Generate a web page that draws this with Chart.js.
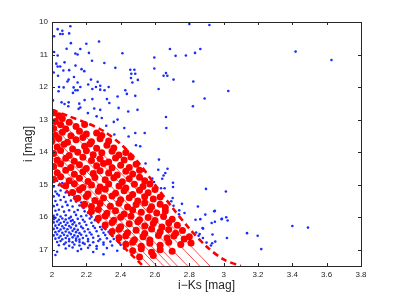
<!DOCTYPE html>
<html>
<head>
<meta charset="utf-8">
<script src="https://cdn.jsdelivr.net/npm/chart.js@4/dist/chart.umd.min.js"></script>
<style>
  html, body { margin: 0; padding: 0; background: #fff; }
  canvas { display: block; }
</style>
</head>
<body>
<canvas id="cmd" width="399" height="300"></canvas>
<script>
// axis ticks
const xTicks = [2, 2.2, 2.4, 2.6, 2.8, 3, 3.2, 3.4, 3.6, 3.8];
const yTicks = [10, 11, 12, 13, 14, 15, 16, 17];

// field stars (blue)
const fieldStars = [
  [2.033,10.22],[2.06,10.27],[2.107,10.13],[2.048,10.37],[2.062,10.37],[2.10,10.35],[2.012,10.44],[2.085,10.82],
  [2.11,10.65],[2.165,10.83],[2.20,10.67],[2.274,10.60],[2.012,10.92],[2.033,11.03],[2.136,10.97],[2.149,11.0],
  [2.215,10.95],[2.41,10.96],[2.596,11.09],[2.687,10.83],[2.72,11.04],[2.78,11.03],[2.833,10.95],[2.80,10.06],
  [2.864,10.83],[2.073,11.24],[2.025,11.28],[2.033,11.37],[2.048,11.37],[2.066,11.49],[2.01,11.55],[2.10,11.48],
  [2.137,11.34],[2.172,11.45],[2.188,11.51],[2.233,11.19],[2.305,11.26],[2.369,11.41],[2.456,11.47],[2.48,11.47],
  [2.462,11.59],[2.485,11.59],[2.596,11.43],[2.664,11.57],[2.672,11.65],[2.65,11.65],[2.035,11.65],[2.097,11.77],
  [2.09,11.83],[2.128,11.69],[2.149,11.86],[2.227,11.77],[2.266,11.84],[2.46,11.72],[2.468,11.86],[2.50,11.78],
  [2.708,11.77],[2.823,11.83],[2.041,12.0],[2.068,12.01],[2.038,12.13],[2.126,12.01],[2.122,12.18],[2.136,12.10],
  [2.149,12.10],[2.165,12.0],[2.211,11.92],[2.235,12.06],[2.256,12.0],[2.281,12.08],[2.281,11.96],[2.306,12.10],
  [2.33,12.0],[2.235,12.37],[2.19,12.40],[2.32,12.37],[2.427,12.10],[2.436,12.21],[2.382,12.29],[2.485,12.27],
  [2.621,12.06],[2.006,12.41],[2.056,12.47],[2.073,12.52],[2.097,12.47],[2.095,12.59],[2.159,12.51],[2.165,12.63],
  [2.155,12.67],[2.246,12.66],[2.281,12.70],[2.334,12.49],[2.388,12.64],[2.444,12.75],[2.498,12.70],[2.821,12.59],
  [2.664,12.92],[2.209,12.80],[2.26,12.90],[2.29,12.95],[2.316,13.19],[2.36,13.07],[2.382,13.0],[2.421,13.26],
  [2.666,13.26],[2.363,13.46],[2.446,13.52],[2.485,13.41],[2.54,13.41],[2.489,13.79],[2.514,13.82],
  [2.917,10.09],[3.419,10.91],[3.628,11.17],[3.027,12.12],[2.889,12.35],
  [2.623,14.23],[2.545,14.35],[2.619,14.54],[2.673,14.51],[2.66,14.64],[2.65,14.72],[2.642,14.82],[2.584,14.81],
  [2.594,14.92],[2.533,14.57],[2.705,14.94],[2.705,15.07],[2.635,15.11],[2.656,15.11],[2.897,15.13],[3.013,15.21],
  [2.703,15.41],[2.695,15.51],[2.68,15.55],[2.757,15.59],[2.708,15.65],[2.85,15.67],[2.741,15.79],[2.74,15.91],
  [2.772,15.87],[2.893,15.92],[2.945,15.82],[2.836,16.08],[2.864,16.06],[2.93,16.18],[2.988,16.06],[3.015,16.0],
  [3.023,16.10],[3.136,16.49],[2.84,16.47],[2.86,16.52],[2.877,16.33],[2.854,16.57],[2.879,16.64],[2.90,16.78],
  [2.951,16.75],[2.933,16.80],[2.926,16.87],[3.019,16.64],[2.99,16.05],[2.949,15.8],[2.949,16.14],[2.88,16.35],
  [2.935,16.53],[3.198,16.57],[3.219,16.98],[3.40,16.27],[3.491,16.32]
];

// dense blue clump below the selection, lower left
const clumpStars = [
  [2.01,14.92],[2.03,14.88],[2.06,14.95],[2.01,15.06],[2.04,15.02],[2.07,15.08],[2.09,15.04],
  [2.02,15.21],[2.05,15.18],[2.08,15.24],[2.11,15.19],[2.03,15.28],
  [2.01,15.36],[2.04,15.33],[2.07,15.38],[2.10,15.32],[2.13,15.37],[2.15,15.41],
  [2.02,15.50],[2.05,15.47],[2.08,15.53],[2.11,15.49],[2.14,15.52],[2.17,15.55],
  [2.01,15.66],[2.03,15.62],[2.06,15.68],[2.09,15.63],[2.12,15.67],[2.16,15.64],[2.18,15.70],
  [2.02,15.80],[2.04,15.77],[2.07,15.83],[2.10,15.79],[2.13,15.84],[2.15,15.78],[2.19,15.82],[2.21,15.86],
  [2.01,15.96],[2.03,15.92],[2.05,15.98],[2.08,15.94],[2.11,15.99],[2.14,15.93],[2.17,15.97],[2.20,15.95],[2.23,15.99],
  [2.01,16.06],[2.02,16.02],[2.04,16.08],[2.06,16.04],[2.08,16.07],[2.10,16.03],[2.12,16.09],[2.15,16.05],[2.18,16.08],[2.22,16.04],[2.25,16.09],
  [2.01,16.16],[2.03,16.13],[2.05,16.18],[2.07,16.14],[2.09,16.17],[2.11,16.12],[2.13,16.16],[2.16,16.19],[2.19,16.14],[2.23,16.17],[2.27,16.15],
  [2.02,16.26],[2.04,16.23],[2.06,16.28],[2.08,16.24],[2.10,16.27],[2.12,16.22],[2.14,16.26],[2.17,16.29],[2.20,16.24],[2.24,16.27],[2.28,16.30],
  [2.01,16.36],[2.03,16.33],[2.05,16.38],[2.07,16.34],[2.09,16.37],[2.11,16.32],[2.13,16.36],[2.15,16.39],[2.18,16.34],[2.21,16.37],[2.25,16.33],[2.29,16.38],[2.31,16.35],
  [2.02,16.46],[2.04,16.43],[2.06,16.48],[2.08,16.44],[2.10,16.47],[2.12,16.42],[2.14,16.46],[2.16,16.49],[2.19,16.44],[2.22,16.47],[2.26,16.43],[2.30,16.48],[2.33,16.45],
  [2.01,16.56],[2.03,16.53],[2.05,16.58],[2.07,16.54],[2.09,16.57],[2.11,16.52],[2.13,16.56],[2.15,16.59],[2.17,16.54],[2.20,16.57],[2.23,16.53],[2.27,16.58],[2.31,16.55],[2.35,16.57],
  [2.02,16.66],[2.04,16.63],[2.06,16.68],[2.08,16.64],[2.10,16.67],[2.12,16.62],[2.14,16.66],[2.16,16.69],[2.18,16.64],[2.21,16.67],[2.24,16.63],[2.28,16.68],[2.32,16.65],[2.36,16.67],[2.38,16.62],
  [2.03,16.76],[2.05,16.73],[2.08,16.78],[2.10,16.74],[2.12,16.77],[2.14,16.72],[2.16,16.76],[2.18,16.79],[2.21,16.74],[2.24,16.77],[2.27,16.73],[2.30,16.78],[2.34,16.75],[2.39,16.77],
  [2.04,16.86],[2.07,16.83],[2.10,16.88],[2.13,16.84],[2.16,16.87],[2.19,16.82],[2.22,16.86],[2.26,16.89],[2.30,16.84],[2.35,16.87],[2.40,16.85],
  [2.08,16.96],[2.12,16.93],[2.17,16.98],[2.21,16.94],[2.26,16.97],[2.32,16.95],[2.42,16.96],
  [2.03,17.06],[2.15,17.04],[2.24,17.07],[2.38,17.03],[2.02,17.16],[2.30,17.14]
];

// selected members (red)
const members = [
  [2.01,12.79],[2.04,12.88],
  [2.02,13.06],[2.06,12.97],[2.10,13.08],
  [2.01,13.27],[2.05,13.16],[2.08,13.29],[2.14,13.21],[2.19,13.15],
  [2.02,13.48],[2.06,13.39],[2.11,13.50],[2.16,13.36],[2.20,13.44],[2.26,13.41],[2.29,13.49],
  [2.00,13.66],[2.04,13.58],[2.09,13.70],[2.14,13.62],[2.18,13.55],[2.23,13.68],[2.28,13.59],[2.33,13.66],
  [2.03,13.84],[2.07,13.76],[2.12,13.90],[2.19,13.82],[2.22,13.75],[2.26,13.88],[2.32,13.79],[2.36,13.87],
  [2.01,14.04],[2.05,13.95],[2.10,14.10],[2.15,14.00],[2.20,13.96],[2.24,14.08],[2.29,14.02],[2.35,13.97],[2.39,14.09],[2.43,14.01],
  [2.03,14.25],[2.08,14.19],[2.13,14.28],[2.18,14.16],[2.23,14.26],[2.28,14.20],[2.33,14.30],[2.37,14.18],[2.42,14.24],[2.46,14.15],
  [2.01,14.44],[2.05,14.36],[2.11,14.47],[2.16,14.39],[2.20,14.50],[2.26,14.42],[2.30,14.35],[2.35,14.48],[2.40,14.40],[2.45,14.47],[2.49,14.37],
  [2.03,14.63],[2.08,14.56],[2.13,14.68],[2.18,14.60],[2.24,14.66],[2.28,14.57],[2.33,14.64],[2.38,14.70],[2.43,14.59],[2.47,14.67],[2.51,14.56],
  [2.01,14.83],[2.05,14.76],[2.10,14.88],[2.16,14.80],[2.21,14.90],[2.25,14.78],[2.31,14.85],[2.36,14.79],[2.41,14.91],[2.45,14.82],[2.51,14.77],[2.54,14.88],
  [2.08,15.03],[2.13,14.97],[2.18,15.09],[2.23,15.01],[2.28,15.07],[2.33,14.98],[2.39,15.04],[2.43,15.10],[2.48,14.99],[2.53,15.06],[2.57,14.98],
  [2.12,15.24],[2.16,15.16],[2.21,15.29],[2.27,15.20],[2.31,15.14],[2.37,15.26],[2.42,15.19],[2.47,15.30],[2.51,15.17],[2.56,15.25],[2.60,15.15],
  [2.15,15.42],[2.20,15.36],[2.25,15.49],[2.30,15.41],[2.35,15.35],[2.40,15.46],[2.45,15.40],[2.50,15.50],[2.54,15.37],[2.59,15.44],[2.63,15.38],
  [2.19,15.60],[2.23,15.67],[2.28,15.58],[2.34,15.66],[2.39,15.57],[2.44,15.69],[2.49,15.61],[2.54,15.56],[2.58,15.68],[2.63,15.60],[2.66,15.70],
  [2.23,15.82],[2.27,15.76],[2.32,15.88],[2.37,15.80],[2.42,15.90],[2.47,15.78],[2.52,15.85],[2.57,15.77],[2.61,15.87],[2.66,15.81],
  [2.27,16.03],[2.31,15.96],[2.36,16.09],[2.40,16.00],[2.46,15.97],[2.51,16.08],[2.56,16.01],[2.60,16.10],[2.65,15.98],[2.70,16.06],
  [2.31,16.24],[2.35,16.16],[2.40,16.29],[2.45,16.20],[2.50,16.14],[2.54,16.27],[2.59,16.19],[2.64,16.30],[2.68,16.17],[2.73,16.25],
  [2.35,16.44],[2.39,16.37],[2.44,16.48],[2.49,16.40],[2.54,16.50],[2.58,16.36],[2.63,16.45],[2.68,16.38],[2.72,16.49],[2.76,16.41],
  [2.39,16.63],[2.43,16.57],[2.48,16.69],[2.53,16.60],[2.57,16.70],[2.62,16.56],[2.67,16.64],[2.71,16.58],[2.77,16.67],[2.80,16.60],
  [2.43,16.83],[2.47,16.77],[2.52,16.89],[2.57,16.80],[2.63,16.86],[2.68,16.77],[2.75,16.84],[2.81,16.79],
  [2.47,17.03],[2.52,16.97],[2.58,17.08],[2.63,17.00],[2.70,17.05],
  [2.51,17.22],[2.59,17.18]
];

// selection boundaries (thick dashed)
const outerEdgeX = [2.0, 2.1, 2.2, 2.3, 2.4, 2.5, 2.6, 2.7, 2.8, 2.9, 3.0, 3.1];
const outerEdgeY = [12.7, 12.9, 13.1, 13.35, 13.75, 14.3, 15.0, 15.7, 16.35, 16.9, 17.3, 17.5];
const innerEdgeX = [2.0, 2.53];
const innerEdgeY = [14.75, 17.5];

// thin model tracks
const trackTopX = [2.0, 2.0, 2.0, 2.0, 2.0, 2.0, 2.0, 2.1];
const trackTopY = [14.37, 14.15, 13.93, 13.71, 13.49, 13.16, 12.77, 12.99];
const trackEndX = [2.57, 2.61, 2.65, 2.69, 2.73, 2.79, 2.86, 2.92];
const trackEndY = [17.5, 17.5, 17.5, 17.5, 17.5, 17.5, 17.5, 17.5];

const RED = '#ff0000';
const BLUE = 'rgb(25,45,255)';
const INK = '#262626';
const FONT = "'Liberation Sans', Arial, Helvetica, sans-serif";

const toPts = arr => arr.map(([x, y]) => ({ x, y }));

const trackSets = trackEndX.map((x, i) => ({
  type: 'line',
  data: [{ x: trackTopX[i], y: trackTopY[i] }, { x, y: trackEndY[i] }],
  borderColor: RED, borderWidth: 0.7, pointRadius: 0, fill: false, showLine: true
}));

const edgeSet = (xs, ys) => ({
  type: 'line',
  data: xs.map((x, i) => ({ x, y: ys[i] })),
  borderColor: RED, borderWidth: 2.6, borderDash: [6, 4], pointRadius: 0,
  fill: false, showLine: true, tension: 0.3
});

// box with ticks pointing in, matlab style
const frame = {
  id: 'frame',
  afterDatasetsDraw(chart){
    const { ctx, chartArea: a, scales: { x, y } } = chart;
    ctx.save();
    ctx.strokeStyle = INK;
    ctx.lineWidth = 1;
    ctx.beginPath();
    for(const v of xTicks){
      const px = Math.round(x.getPixelForValue(v)) + 0.5;
      ctx.moveTo(px, a.bottom); ctx.lineTo(px, a.bottom - 3);
      ctx.moveTo(px, a.top); ctx.lineTo(px, a.top + 3);
    }
    for(const v of yTicks){
      const py = Math.round(y.getPixelForValue(v)) + 0.5;
      ctx.moveTo(a.left, py); ctx.lineTo(a.left + 3, py);
      ctx.moveTo(a.right, py); ctx.lineTo(a.right - 3, py);
    }
    ctx.stroke();
    ctx.strokeRect(Math.round(a.left) + 0.5, Math.round(a.top) + 0.5,
      Math.round(a.right - a.left), Math.round(a.bottom - a.top));
    ctx.restore();
  }
};

new Chart(document.getElementById('cmd').getContext('2d'), {
  type: 'scatter',
  data: {
    datasets: [
      ...trackSets,
      edgeSet(outerEdgeX, outerEdgeY),
      edgeSet(innerEdgeX, innerEdgeY),
      { data: toPts(members), backgroundColor: RED, borderWidth: 0, pointRadius: 3.5, clip: 0 },
      { data: toPts(clumpStars), backgroundColor: BLUE, borderWidth: 0, pointRadius: 1.3, clip: 0 },
      { data: toPts(fieldStars), backgroundColor: BLUE, borderWidth: 0, pointRadius: 1.3, clip: 0 }
    ]
  },
  options: {
    responsive: false,
    animation: false,
    events: [],
    layout: { padding: { top: 22, right: 38, left: 0, bottom: 0 } },
    plugins: { legend: { display: false }, tooltip: { enabled: false } },
    scales: {
      x: {
        type: 'linear', min: 2, max: 3.8,
        afterBuildTicks: s => { s.ticks = xTicks.map(v => ({ value: v })); },
        afterFit: s => { s.height = 34; },
        grid: { display: false, drawTicks: false },
        border: { display: false },
        ticks: { color: INK, font: { family: FONT, size: 8 }, padding: 4, maxRotation: 0,
          callback: v => String(+v.toFixed(1)) },
        title: { display: true, text: 'i\u2212Ks [mag]', color: INK,
          font: { family: FONT, size: 12 }, padding: { top: 0, bottom: 7 } }
      },
      y: {
        type: 'linear', reverse: true, min: 10, max: 17.5,
        afterBuildTicks: s => { s.ticks = yTicks.map(v => ({ value: v })); },
        afterFit: s => { s.width = 52; },
        grid: { display: false, drawTicks: false },
        border: { display: false },
        ticks: { color: INK, font: { family: FONT, size: 8 }, padding: 4,
          callback: v => String(v) },
        title: { display: true, text: 'i [mag]', color: INK,
          font: { family: FONT, size: 12 }, padding: { top: 21, bottom: 0 } }
      }
    }
  },
  plugins: [frame]
});
</script>
</body>
</html>
